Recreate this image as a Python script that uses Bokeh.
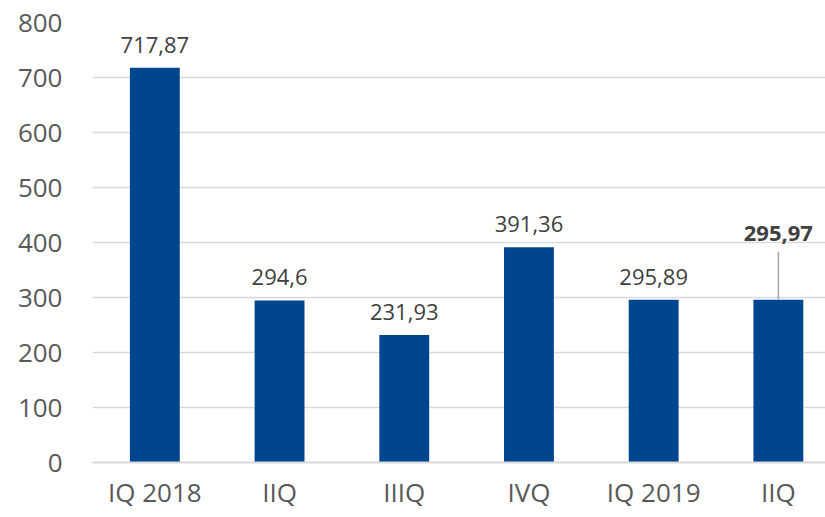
from bokeh.plotting import figure
from bokeh.models import Range1d, FixedTicker, ColumnDataSource
from bokeh.core.properties import value
from bokeh.embed import file_html
from bokeh.resources import INLINE

categories = ["IQ 2018", "IIQ", "IIIQ", "IVQ", "IQ 2019", "IIQ"]
values = [717.87, 294.6, 231.93, 391.36, 295.89, 295.97]
value_labels = ["717,87", "294,6", "231,93", "391,36", "295,89", "295,97"]
y_ticks = [0, 100, 200, 300, 400, 500, 600, 700, 800]

FONT = "Open Sans"
BAR_COLOR = "#00468F"

x = list(range(len(categories)))

p = figure(width=825, height=517, output_backend="svg", toolbar_location=None,
           x_range=Range1d(-0.5, 5.378), y_range=Range1d(0, 800))
p.min_border_left = 92
p.min_border_right = 0
p.min_border_top = 22
p.min_border_bottom = 55
p.outline_line_color = None
p.background_fill_color = "white"
p.border_fill_color = "white"

src = ColumnDataSource(dict(x=x, top=values, label=value_labels))
main = ColumnDataSource(dict(x=x[:-1], top=values[:-1], label=value_labels[:-1]))
last = ColumnDataSource(dict(x=x[-1:], top=values[-1:], label=value_labels[-1:],
                             lead=[values[-1] + 87]))

p.vbar(x="x", top="top", width=0.4, source=src, fill_color=BAR_COLOR, line_color=None)

p.text(x="x", y="top", text="label", source=main, text_align="center",
       text_baseline="middle", y_offset=-23, text_font=value(FONT),
       text_font_size="22px", text_color="#404040")

p.segment(x0="x", y0="top", x1="x", y1="lead", source=last, line_color="#A6A6A6",
          line_width=1.5)
p.text(x="x", y="lead", text="label", source=last, text_align="center",
       text_baseline="middle", y_offset=-18, text_font=value(FONT),
       text_font_size="22px", text_color="#404040", text_font_style="bold")

# axes
p.xaxis.ticker = FixedTicker(ticks=x)
p.xaxis.major_label_overrides = {i: c for i, c in enumerate(categories)}
p.xaxis.axis_line_color = "#D9D9D9"
p.xaxis.axis_line_width = 2
p.xaxis.major_tick_line_color = None
p.xaxis.minor_tick_line_color = None
p.xaxis.major_tick_out = 0
p.xaxis.major_label_text_font = FONT
p.xaxis.major_label_text_font_size = "26px"
p.xaxis.major_label_text_color = "#595959"
p.xaxis.major_label_standoff = 11

p.yaxis.ticker = FixedTicker(ticks=y_ticks)
p.yaxis.axis_line_color = None
p.yaxis.major_tick_line_color = None
p.yaxis.minor_tick_line_color = None
p.yaxis.major_tick_out = 0
p.yaxis.major_label_text_font = FONT
p.yaxis.major_label_text_font_size = "26px"
p.yaxis.major_label_text_color = "#595959"
p.yaxis.major_label_standoff = 30

p.xgrid.grid_line_color = None
p.ygrid.ticker = FixedTicker(ticks=y_ticks[1:])
p.ygrid.grid_line_color = "#D9D9D9"
p.ygrid.grid_line_width = 1.5

open("out.html", "w").write(file_html(p, INLINE))
